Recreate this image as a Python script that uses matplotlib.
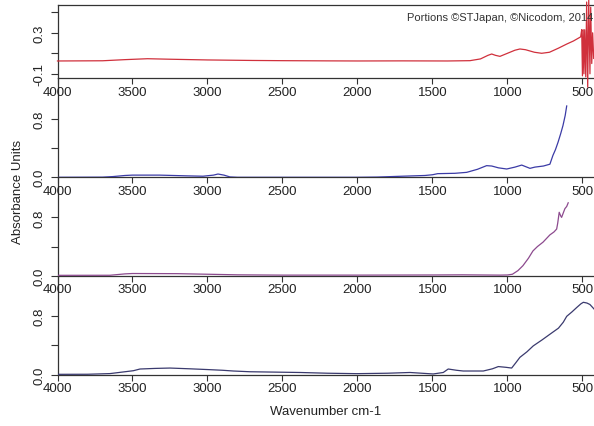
import matplotlib
matplotlib.use("Agg")
import matplotlib.pyplot as plt
import numpy as np

plt.rcParams['font.family'] = ['Liberation Sans', 'DejaVu Sans']

# ---- data (wavenumber cm-1, absorbance) ----
wn1 = [4000, 3700, 3550, 3400, 3250, 3000, 2700, 2500, 2200, 2000, 1700, 1400, 1250, 1180,
       1130, 1105, 1080, 1050, 1000, 950, 917, 880, 820, 772, 720, 660, 605, 560, 517,
       512, 505, 500, 495, 490, 485, 478, 472, 465, 458, 450, 445, 438, 432, 425]
ab1 = [0.025, 0.027, 0.038, 0.047, 0.042, 0.035, 0.030, 0.028, 0.026, 0.025, 0.026, 0.025, 0.028, 0.045,
       0.080, 0.093, 0.080, 0.070, 0.100, 0.130, 0.142, 0.135, 0.110, 0.100, 0.110, 0.150, 0.190, 0.220, 0.256,
       0.26, 0.33, -0.12, 0.33, -0.10, 0.33, -0.13, 0.60, -0.23, 0.62, -0.10, 0.55, 0.00, 0.30, 0.05]

wn2 = [4000, 3700, 3630, 3550, 3500, 3320, 3140, 3030, 2960, 2930, 2890, 2850, 2800, 2400, 2000,
       1870, 1700, 1550, 1500, 1465, 1350, 1272, 1200, 1139, 1105, 1060, 1005, 950, 905, 850,
       817, 760, 717, 697, 680, 663, 645, 630, 615, 605]
ab2 = [0.0, 0.002, 0.010, 0.025, 0.030, 0.030, 0.020, 0.015, 0.030, 0.045, 0.030, 0.005, 0.0, 0.0, 0.0,
       0.003, 0.015, 0.025, 0.035, 0.050, 0.055, 0.068, 0.110, 0.160, 0.155, 0.130, 0.114, 0.140, 0.168, 0.123,
       0.140, 0.155, 0.180, 0.300, 0.380, 0.480, 0.600, 0.710, 0.850, 0.980]

wn3 = [4000, 3650, 3550, 3500, 3200, 3000, 2800, 2500, 2000, 1500, 1300, 1050, 1000, 967, 930,
       897, 860, 830, 800, 763, 740, 717, 690, 672, 665, 655, 645, 639, 628, 617, 605, 595]
ab3 = [0.005, 0.006, 0.025, 0.030, 0.028, 0.020, 0.012, 0.008, 0.008, 0.010, 0.012, 0.008, 0.010, 0.020, 0.070,
       0.137, 0.240, 0.340, 0.400, 0.460, 0.510, 0.560, 0.600, 0.640, 0.720, 0.870, 0.820, 0.800, 0.860, 0.920, 0.950, 1.000]

wn4 = [4000, 3800, 3650, 3550, 3494, 3450, 3350, 3250, 3120, 3005, 2900, 2828, 2717, 2550, 2383,
       2200, 2005, 1800, 1650, 1495, 1428, 1395, 1340, 1295, 1161, 1100, 1061, 1010, 972, 945,
       917, 870, 828, 770, 705, 660, 628, 605, 570, 538, 510, 494, 470, 450, 423]
ab4 = [0.005, 0.006, 0.015, 0.040, 0.054, 0.077, 0.085, 0.090, 0.080, 0.070, 0.060, 0.050, 0.040, 0.035, 0.030,
       0.020, 0.014, 0.020, 0.030, 0.010, 0.030, 0.077, 0.060, 0.050, 0.050, 0.080, 0.110, 0.100, 0.090, 0.160,
       0.235, 0.310, 0.390, 0.470, 0.565, 0.630, 0.710, 0.790, 0.850, 0.910, 0.960, 0.980, 0.970, 0.950, 0.890]

x_ticks = [4000, 3500, 3000, 2500, 2000, 1500, 1000, 500]
x_ticklabels = ['4000', '3500', '3000', '2500', '2000', '1500', '1000', '500']
y1_ticks = [-0.1, 0.1, 0.3, 0.5]
y1_ticklabels = ['-0.1', '', '0.3', '']
y_ticks = [0.0, 0.4, 0.8]
y_ticklabels = ['0.0', '', '0.8']

# ---- figure ----
W, H = 594, 427
fig = plt.figure(figsize=(W / 100, H / 100), dpi=100)

left = 57.5 / W
right = 1.0
# pixel rows: (top, bottom)
rows = [(6, 79.3), (79.3, 178.3), (178.3, 276.7), (276.7, 375.7)]
ylims = [(-0.144, 0.571), (0.0, 1.36), (0.0, 1.35), (0.0, 1.34)]
series = [(wn1, ab1, '#d0303c'), (wn2, ab2, '#3b3ba6'), (wn3, ab3, '#8c4a8e'), (wn4, ab4, '#3a3a6e')]
spine_col = '#333333'

axes = []
for i, ((t, b), yl, (wn, ab, col)) in enumerate(zip(rows, ylims, series)):
    ax = fig.add_axes([left, 1 - b / H, right - left, (b - t) / H])
    ax.set_facecolor('none')
    ax.plot(wn, ab, color=col, lw=0.9, clip_on=(i != 0), zorder=3)
    ax.set_xlim(4000, 423)
    ax.set_ylim(*yl)
    ax.set_xticks(x_ticks)
    ax.set_xticklabels(x_ticklabels)
    if i == 0:
        ax.set_yticks(y1_ticks)
        ax.set_yticklabels(y1_ticklabels)
    else:
        ax.set_yticks(y_ticks)
        ax.set_yticklabels(y_ticklabels)
        ax.spines['top'].set_visible(False)
    ax.spines['right'].set_visible(False)
    for s in ax.spines.values():
        s.set_color(spine_col)
        s.set_linewidth(0.9)
    ax.tick_params(axis='x', direction='out', length=4, width=0.8, pad=1.5,
                   labelsize=9.5, colors=spine_col, labelcolor='#222222')
    ax.tick_params(axis='y', direction='out', length=5, width=0.8, pad=3.5,
                   labelsize=9.5, colors=spine_col, labelcolor='#222222')
    for lab in ax.get_yticklabels():
        lab.set_rotation(90)
        lab.set_va('center')
    axes.append(ax)

# later axes are drawn above earlier ones; keep tick labels visible
for z, ax in enumerate(axes):
    ax.set_zorder(10 - z)

axes[0].text(0.998, 0.84, 'Portions \u00a9STJapan, \u00a9Nicodom, 2014', transform=axes[0].transAxes,
             ha='right', va='center', fontsize=8, color='#333333')

fig.text(18 / W, 1 - 192 / H, 'Absorbance Units', rotation=90, ha='center', va='center',
         fontsize=9.5, color='#222222')
fig.text(326 / W, 1 - 412 / H, 'Wavenumber cm-1', ha='center', va='center',
         fontsize=9.5, color='#222222')

fig.savefig('out.png', dpi=100)
